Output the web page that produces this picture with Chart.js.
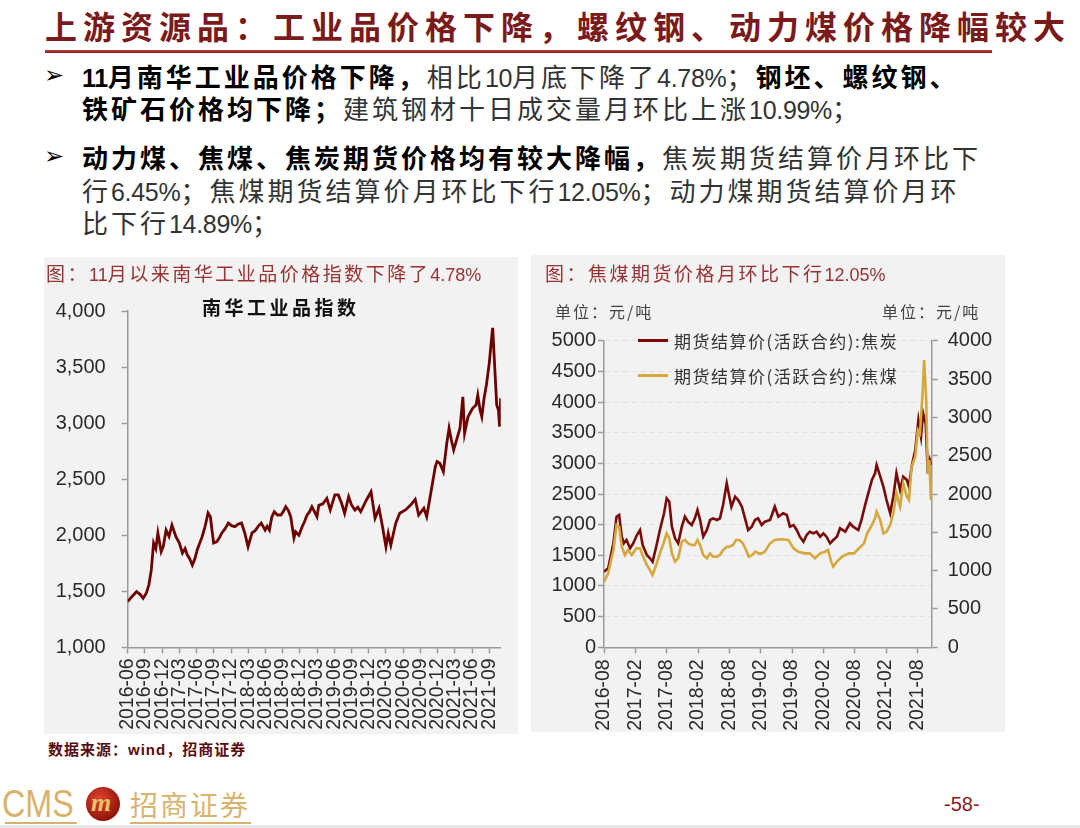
<!DOCTYPE html>
<html><head><meta charset="utf-8">
<script src="https://cdn.jsdelivr.net/npm/chart.js@4.4.1/dist/chart.umd.min.js"></script>
<style>
html,body{margin:0;padding:0;background:#fff;}
#page{position:relative;width:1080px;height:828px;overflow:hidden;font-family:"Noto Sans CJK SC",sans-serif;}
.abs{position:absolute;white-space:nowrap;}
.title{left:45px;top:6px;font-size:32px;line-height:38px;color:#7A1A1A;font-weight:bold;letter-spacing:6px;}
.rule{left:45px;top:50px;width:947px;height:3px;background:linear-gradient(#b8403f,#8e1f1f);}
.bl{left:82px;font-size:26px;line-height:32px;height:32px;letter-spacing:3px;color:#333;}
.bl b{color:#000;font-weight:bold;}
.n{font-family:"Liberation Sans",sans-serif;font-size:25px;letter-spacing:-0.3px;}
.arrow{left:44px;font-family:"DejaVu Sans",sans-serif;font-size:24px;line-height:32px;color:#000;}
.panel{position:absolute;background:#F2F2F2;}
.ptitle{font-size:19px;line-height:24px;color:#993333;letter-spacing:2.5px;}
.ptitle .n{font-size:18px;letter-spacing:0;}
.unit{font-size:16px;line-height:20px;color:#444;letter-spacing:2px;}
.leg{font-size:17px;line-height:22px;color:#333;letter-spacing:1.5px;}
.legline{position:absolute;width:30px;height:3px;}
</style></head>
<body><div id="page">
<div class="abs title">上游资源品：工业品价格下降，螺纹钢、动力煤价格降幅较大</div>
<div class="abs rule"></div>

<div class="abs arrow" style="top:59px">➢</div>
<div class="abs bl" style="top:60px"><b><span class="n">11</span>月南华工业品价格下降，</b>相比<span class="n">10</span>月底下降了<span class="n">4.78%</span>；<b>钢坯、螺纹钢、</b></div>
<div class="abs bl" style="top:92px"><b>铁矿石价格均下降；</b>建筑钢材十日成交量月环比上涨<span class="n">10.99%</span>；</div>
<div class="abs arrow" style="top:140px">➢</div>
<div class="abs bl" style="top:141px"><b>动力煤、焦煤、焦炭期货价格均有较大降幅，</b>焦炭期货结算价月环比下</div>
<div class="abs bl" style="top:174px">行<span class="n">6.45%</span>；焦煤期货结算价月环比下行<span class="n">12.05%</span>；动力煤期货结算价月环</div>
<div class="abs bl" style="top:206px">比下行<span class="n">14.89%</span>；</div>

<div class="panel" style="left:44px;top:257px;width:474px;height:477px"><canvas id="c1" width="474" height="477"></canvas></div>
<div class="panel" style="left:531px;top:255px;width:474px;height:477px"><canvas id="c2" width="474" height="477"></canvas></div>

<div class="abs ptitle" style="left:46px;top:261px">图：<span class="n">11</span>月以来南华工业品价格指数下降了<span class="n">4.78%</span></div>
<div class="abs" style="left:202px;top:295px;font-size:19px;line-height:24px;font-weight:bold;color:#111;letter-spacing:3.5px">南华工业品指数</div>

<div class="abs ptitle" style="left:545px;top:261px">图：焦煤期货价格月环比下行<span class="n">12.05%</span></div>
<div class="abs unit" style="left:555px;top:301px">单位：元/吨</div>
<div class="abs unit" style="left:882px;top:301px">单位：元/吨</div>
<div class="legline" style="left:638px;top:339px;background:#7A0A0A"></div>
<div class="abs leg" style="left:674px;top:330px">期货结算价(活跃合约):焦炭</div>
<div class="legline" style="left:638px;top:374px;background:#D4A83C"></div>
<div class="abs leg" style="left:674px;top:365px">期货结算价(活跃合约):焦煤</div>

<div class="abs" style="left:48px;top:739px;font-size:15px;line-height:20px;font-weight:bold;color:#5A0B0B;letter-spacing:1px">数据来源：<span style="font-family:'Liberation Sans'">wind</span>，招商证券</div>

<div class="abs" style="left:2px;top:784px;font-family:'Liberation Sans';font-size:38px;line-height:40px;color:#D9B36E;transform:scaleX(0.85);transform-origin:left center">CMS</div>
<div class="abs" style="left:5px;top:822px;width:72px;height:2px;background:#D9B36E"></div>
<div class="abs" style="left:86px;top:787px;width:34px;height:34px;border-radius:50%;background:radial-gradient(circle at 40% 35%,#e0432f,#8e1208 75%);"></div>
<div class="abs" style="left:91px;top:788px;font-family:'Liberation Serif';font-style:italic;font-weight:bold;font-size:26px;line-height:30px;color:#E8C26A">m</div>
<div class="abs" style="left:130px;top:786px;font-size:28px;line-height:36px;color:#D9B36E;letter-spacing:2px">招商证券</div>
<div class="abs" style="left:130px;top:822px;width:121px;height:2px;background:#D9B36E"></div>
<div class="abs" style="left:944px;top:792px;font-family:'Liberation Sans';font-size:20px;line-height:24px;color:#8B1A1A">-58-</div>
<div class="abs" style="left:0;top:825px;width:1080px;height:3px;background:#e6e6e6"></div>
</div>

<script>
// ---- Chart 1: 南华工业品指数 (x = months since 2016-06) ----
const nhMonths = [0,0.6,1.54,2.2,2.69,3.26,3.7,4.11,4.51,4.9,5.26,5.83,6.2,6.69,7.2,7.71,8.4,9.0,9.54,10.0,10.4,10.8,11.26,11.7,12.11,12.97,13.5,14.0,14.4,14.97,15.54,16.0,16.4,17.0,17.54,18.1,18.69,19.3,19.83,20.4,20.97,21.66,22.2,22.69,23.26,23.94,24.3,24.69,25.1,25.54,26.1,26.69,27.1,27.54,28.0,28.4,28.97,29.26,29.83,30.4,30.8,31.26,31.7,32.1,32.98,33.3,34.0,34.7,35.3,36.1,36.7,37.3,37.8,38.5,39.0,39.6,40.1,40.6,41.6,42.4,43.1,43.8,44.4,45.0,45.4,45.85,46.7,47.4,48.4,49.3,50.1,50.7,51.6,52.1,52.7,53.6,53.9,54.4,55.0,55.6,56.0,56.4,56.8,57.3,57.9,58.4,58.7,59.3,60.1,60.7,61.0,61.4,61.7,62.1,62.5,63.0,63.45,63.6,63.98,64.3,64.6,64.8,64.98];
const nhValues = [1407,1445,1496,1470,1437,1484,1560,1690,1930,1880,2020,1853,1900,2046,1990,2090,1987,1930,1840,1880,1823,1790,1734,1790,1868,1987,2080,2198,2165,1930,1942,1980,2020,2060,2108,2085,2076,2100,2108,2020,1897,2020,2040,2076,2108,2046,2080,2046,2160,2210,2180,2180,2210,2254,2220,2165,1975,2031,2000,2076,2120,2180,2210,2254,2165,2266,2280,2329,2225,2359,2359,2280,2195,2343,2270,2225,2250,2210,2314,2388,2151,2240,2076,1897,2015,1912,2106,2195,2225,2269,2320,2180,2240,2165,2343,2611,2656,2641,2567,2820,2954,2849,2760,2849,2954,3235,2909,3057,3132,3161,3250,3117,3057,3221,3340,3533,3780,3850,3474,3161,3117,2968,3221];
const nhTickMonths = [0,3,6,9,12,15,18,21,24,27,30,33,36,39,42,45,48,51,54,57,60,63];
const nhTickLabels = ['2016-06','2016-09','2016-12','2017-03','2017-06','2017-09','2017-12','2018-03','2018-06','2018-09','2018-12','2019-03','2019-06','2019-09','2019-12','2020-03','2020-06','2020-09','2020-12','2021-03','2021-06','2021-09'];
const nhYTicks = [1000,1500,2000,2500,3000,3500,4000];

// ---- Chart 2: 焦炭 / 焦煤 期货结算价 (x = months since 2016-08) ----
const cokeMonths = [0,0.8,1.8,2.4,2.9,3.4,3.8,4.3,5.0,5.6,6.3,6.9,7.4,8.2,8.8,9.3,10.0,10.7,11.5,12.0,12.5,13.0,13.6,14.2,14.9,15.5,16.1,16.8,17.4,17.9,18.4,19.0,19.7,20.3,20.9,21.6,22.2,22.8,23.5,24.0,24.4,25.1,25.7,26.4,27.0,27.6,28.3,28.9,29.5,30.2,30.8,31.8,32.7,33.4,34.3,35.0,35.6,36.3,36.9,37.5,38.2,38.8,39.4,40.1,40.7,41.4,42.0,42.6,43.3,43.9,44.6,45.2,46.2,47.1,47.7,48.7,49.3,50.0,50.6,51.3,51.9,52.2,52.9,53.5,54.1,54.8,55.4,56.0,56.7,57.3,58.0,58.4,58.9,59.6,60.2,60.7,61.1,61.6,62.0,62.4,62.7];
const cokeValues = [1233,1288,1696,2130,2157,1804,1696,1750,1614,1696,1831,1913,1668,1505,1451,1396,1641,1913,2185,2429,2375,1967,1777,1696,1967,2130,2048,1994,2103,2239,2076,1804,1913,2076,2103,2076,2103,2320,2674,2456,2293,2456,2402,2293,2103,1913,1967,2076,2103,1994,2048,2076,2293,2130,2185,2157,1967,1994,1913,1804,1722,1831,1885,1859,1885,1804,1859,1804,1696,1750,1804,1940,1885,2022,1967,1913,2076,2320,2511,2728,2837,2973,2782,2619,2402,2185,2456,2837,2565,2782,2728,2619,2945,3217,3707,3434,3820,3652,2837,3054,2973];
const coalMonths = [0,0.8,1.8,2.4,2.9,3.4,4.0,4.6,5.3,6.2,6.9,7.5,8.2,8.8,9.3,10.0,10.7,11.4,12.0,12.5,13.0,13.6,14.2,14.9,15.5,16.1,16.8,17.4,17.9,18.4,19.0,19.7,20.3,20.9,21.6,22.2,22.8,23.5,24.0,24.7,25.3,25.9,26.6,27.2,27.7,28.4,29.0,29.6,30.2,30.8,31.8,32.7,34.0,35.3,36.3,37.2,38.5,39.4,40.4,41.4,42.3,42.9,43.5,43.9,44.6,45.6,46.9,47.9,48.8,49.8,50.4,51.3,51.9,52.2,52.9,53.5,54.1,54.8,55.4,56.0,56.7,57.3,58.0,58.4,58.9,59.6,60.1,60.5,61.0,61.3,61.7,62.0,62.3,62.6,62.7];
const coalValues = [856,965,1269,1595,1573,1312,1204,1269,1204,1291,1291,1182,1073,1008,943,1073,1226,1356,1487,1421,1226,1117,1161,1378,1400,1356,1334,1334,1400,1334,1204,1161,1226,1182,1182,1204,1269,1312,1312,1334,1400,1400,1356,1269,1182,1204,1247,1226,1226,1247,1356,1400,1409,1400,1291,1247,1226,1226,1161,1226,1247,1269,1117,1052,1117,1182,1226,1226,1291,1356,1487,1595,1682,1769,1660,1487,1508,1595,1748,2009,1834,2139,1965,1921,2356,2486,2835,2791,3313,3748,3226,2270,2443,1921,2139];
const coalTickMonths = [0,6,12,18,24,30,36,42,48,54,60];
const coalTickLabels = ['2016-08','2017-02','2017-08','2018-02','2018-08','2019-02','2019-08','2020-02','2020-08','2021-02','2021-08'];

const AX = '#9a9a9a';
const TXT = '#2a2a2a';
const tickFontY = {family:'Liberation Sans', size:20};
const tickFontX = {family:'Liberation Sans', size:19.5};
const pts = (xs, ys) => xs.map((x,i) => ({x:x, y:ys[i]}));

new Chart(document.getElementById('c1'), {
  type:'line',
  data:{datasets:[{label:'南华工业品指数', data:pts(nhMonths,nhValues), borderColor:'#6E0000', borderWidth:2.8, pointRadius:0, tension:0}]},
  options:{
    responsive:false, animation:false,
    layout:{padding:{left:0,right:11.3,top:54,bottom:0}},
    plugins:{legend:{display:false}, tooltip:{enabled:false}},
    scales:{
      x:{type:'linear', min:0, max:65,
        afterBuildTicks:s=>{s.ticks = nhTickMonths.map(v=>({value:v}));},
        afterFit:s=>{s.height = 86.7;},
        ticks:{autoSkip:false, maxRotation:90, minRotation:90, padding:5, color:TXT, font:tickFontX,
          callback:(v,i)=>nhTickLabels[i]},
        grid:{drawOnChartArea:false, drawTicks:true, tickLength:6, color:AX, tickWidth:1.5},
        border:{color:AX, width:1.5}},
      y:{min:1000, max:4000,
        afterBuildTicks:s=>{s.ticks = nhYTicks.map(v=>({value:v}));},
        afterFit:s=>{s.width = 83.7;},
        ticks:{padding:16, color:TXT, font:tickFontY, callback:v=>v.toLocaleString('en-US')},
        grid:{drawOnChartArea:false, drawTicks:true, tickLength:6, color:AX, tickWidth:1.5},
        border:{color:AX, width:1.5}}
    }
  }
});

new Chart(document.getElementById('c2'), {
  type:'line',
  data:{datasets:[
    {label:'期货结算价(活跃合约):焦炭', data:pts(cokeMonths,cokeValues), yAxisID:'y', borderColor:'#7A0A0A', borderWidth:2.6, pointRadius:0, tension:0, order:2},
    {label:'期货结算价(活跃合约):焦煤', data:pts(coalMonths,coalValues), yAxisID:'y1', borderColor:'#D4A83C', borderWidth:2.6, pointRadius:0, tension:0, order:1}
  ]},
  options:{
    responsive:false, animation:false,
    layout:{padding:{left:0,right:0,top:85.7,bottom:0}},
    plugins:{legend:{display:false}, tooltip:{enabled:false}},
    scales:{
      x:{type:'linear', min:0, max:62.75,
        afterBuildTicks:s=>{s.ticks = coalTickMonths.map(v=>({value:v}));},
        afterFit:s=>{s.height = 84.7;},
        ticks:{autoSkip:false, maxRotation:90, minRotation:90, padding:6, color:TXT, font:tickFontX,
          callback:(v,i)=>coalTickLabels[i]},
        grid:{drawOnChartArea:false, drawTicks:true, tickLength:6, color:AX, tickWidth:1.5},
        border:{color:AX, width:1.5}},
      y:{position:'left', min:0, max:5000,
        ticks:{stepSize:500, padding:2, color:TXT, font:tickFontY, callback:v=>String(v)},
        afterFit:s=>{s.width = 73;},
        grid:{drawOnChartArea:true, drawTicks:true, tickLength:6, color:'rgba(0,0,0,0.07)', lineWidth:1, tickColor:AX, tickWidth:1.5, tickBorderDash:[]},
        border:{color:AX, width:1.5, dash:[5,4]}},
      y1:{position:'right', min:0, max:4000,
        ticks:{stepSize:500, padding:10, color:TXT, font:tickFontY, callback:v=>String(v)},
        afterFit:s=>{s.width = 73.3;},
        grid:{drawOnChartArea:false, drawTicks:true, tickLength:6, color:AX, tickWidth:1.5},
        border:{color:AX, width:1.5}}
    }
  }
});
</script>
</body></html>
